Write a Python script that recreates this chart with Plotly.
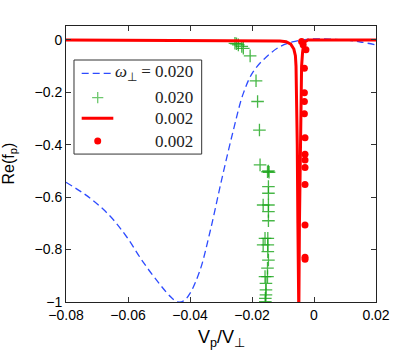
import plotly.graph_objects as go

# ---- data ----
blue_x = [-0.08, -0.0723, -0.0658, -0.0604, -0.0551, -0.0497, -0.046, -0.044, -0.042, -0.040,
          -0.0368, -0.0335, -0.0298, -0.026, -0.0228, -0.0196, -0.0153, -0.011, -0.007, -0.003,
          0.0, 0.005, 0.0095, 0.015, 0.02]
blue_y = [-0.543, -0.603, -0.672, -0.752, -0.848, -0.933, -0.983, -1.0, -0.995, -0.967,
          -0.88, -0.73, -0.534, -0.344, -0.204, -0.121, -0.064, -0.026, -0.008, 0.001,
          0.004, 0.003, 0.0, -0.008, -0.019]

green_x = [-0.0255, -0.0250, -0.0244, -0.0233, -0.0228, -0.0206, -0.0187, -0.0182, -0.0176, -0.0174,
           -0.0147, -0.0150, -0.0145, -0.0147, -0.0147, -0.0164, -0.0147, -0.0147, -0.0147, -0.0149,
           -0.0158, -0.0164, -0.0149, -0.0149, -0.0147, -0.0150, -0.0158, -0.0150, -0.0155, -0.0155,
           -0.0155, -0.0157, -0.0157]
green_y = [-0.013, -0.015, -0.019, -0.025, -0.032, -0.061, -0.156, -0.235, -0.344, -0.477,
           -0.500, -0.503, -0.505, -0.56, -0.585, -0.63, -0.63, -0.655, -0.69, -0.757,
           -0.757, -0.782, -0.782, -0.808, -0.84, -0.871, -0.903, -0.903, -0.929, -0.954,
           -0.973, -0.986, -0.999]

red_line_x = [-0.08, -0.03, -0.015, -0.011, -0.009, -0.0075, -0.0065, -0.006, -0.0058, -0.0056,
              -0.0054, -0.0052, -0.0051, -0.0049, -0.0047, -0.0044, -0.0042, -0.0040, -0.0037,
              -0.0034, -0.003, -0.0025, -0.002, 0.02]
red_line_y = [0.0, -0.001, -0.002, -0.004, -0.007, -0.016, -0.035, -0.06, -0.1, -0.2,
              -0.4, -0.7, -1.05, -1.05, -0.7, -0.4, -0.2, -0.1, -0.05,
              -0.02, -0.008, -0.002, 0.0, 0.0]

red_dot_x = [-0.0040, -0.0035, -0.0026, -0.0031, -0.0031, -0.0031, -0.0031, -0.0029, -0.0029,
             -0.0029, -0.0029, -0.0029, -0.0029, -0.0029, -0.0029]
red_dot_y = [-0.006, -0.019, -0.038, -0.108, -0.202, -0.235, -0.282, -0.373, -0.436,
             -0.458, -0.487, -0.552, -0.706, -0.829, -0.837]

legend_labels = ["<i>ω</i><sub>⊥</sub> = 0.020", "0.020", "0.002", "0.002"]

BLUE = "rgb(45,75,255)"
GREEN = "rgba(25,165,25,0.8)"
RED = "rgb(255,0,0)"

fig = go.Figure()
fig.add_trace(go.Scatter(x=blue_x, y=blue_y, mode="lines", line_shape="spline",
                         line=dict(color=BLUE, width=1.3, dash="7px,4px"), showlegend=False))
fig.add_trace(go.Scatter(x=green_x, y=green_y, mode="markers",
                         marker=dict(symbol="cross-thin", size=9, line=dict(color=GREEN, width=1.3)),
                         showlegend=False))
fig.add_trace(go.Scatter(x=red_line_x, y=red_line_y, mode="lines",
                         line=dict(color=RED, width=3), showlegend=False))
fig.add_trace(go.Scatter(x=red_dot_x, y=red_dot_y, mode="markers",
                         marker=dict(symbol="circle", size=7, color=RED), showlegend=False))

# ---- custom legend (overlay axis in 0..1 units) ----
rows = [0.8286, 0.7402, 0.6656, 0.5833]
fig.add_trace(go.Scatter(x=[0.0506, 0.1526], y=[rows[0]] * 2, xaxis="x2", yaxis="y2", mode="lines",
                         line=dict(color=BLUE, width=1.3, dash="7px,4px"), showlegend=False))
fig.add_trace(go.Scatter(x=[0.1023], y=[rows[1]], xaxis="x2", yaxis="y2", mode="markers",
                         marker=dict(symbol="cross-thin", size=8,
                                     line=dict(color="rgba(110,200,110,1)", width=1.3)),
                         showlegend=False))
fig.add_trace(go.Scatter(x=[0.0506, 0.1526], y=[rows[2]] * 2, xaxis="x2", yaxis="y2", mode="lines",
                         line=dict(color=RED, width=3), showlegend=False))
fig.add_trace(go.Scatter(x=[0.1023], y=[rows[3]], xaxis="x2", yaxis="y2", mode="markers",
                         marker=dict(symbol="circle", size=7, color=RED), showlegend=False))

annotations = []
for lbl, ry in zip(legend_labels, rows):
    annotations.append(dict(x=0.4161, y=ry, xref="paper", yref="paper", text=lbl, showarrow=False,
                            xanchor="right", yanchor="middle",
                            font=dict(family="Liberation Serif, Times New Roman, serif", size=17,
                                      color="#222")))
annotations.append(dict(x=0.5, y=0, xref="paper", yref="paper", yshift=-23,
                        text="V<sub>p</sub>/V<sub>⊥</sub>", showarrow=False,
                        xanchor="center", yanchor="top",
                        font=dict(family="Liberation Sans", size=18, color="black")))
annotations.append(dict(x=0, y=0.5, xref="paper", yref="paper", xshift=-69,
                        text="Re(f<sub>p</sub>)", showarrow=False, textangle=-90,
                        xanchor="left", yanchor="middle",
                        font=dict(family="Liberation Sans", size=16, color="black")))

axis_common = dict(showline=True, linecolor="#222", linewidth=1, mirror="ticks", ticks="inside",
                   ticklen=5, tickcolor="#333", showgrid=False, zeroline=False,
                   tickfont=dict(family="Liberation Sans", size=14, color="black"))

fig.update_layout(
    width=415, height=351,
    margin=dict(l=66, r=39, t=26, b=49),
    paper_bgcolor="white", plot_bgcolor="white",
    xaxis=dict(range=[-0.08, 0.02], tickvals=[-0.08, -0.06, -0.04, -0.02, 0, 0.02],
               ticktext=["−0.08", "−0.06", "−0.04", "−0.02", "0", "0.02"], **axis_common),
    yaxis=dict(range=[-1, 0.053], tickvals=[-1, -0.8, -0.6, -0.4, -0.2, 0],
               ticktext=["−1", "−0.8", "−0.6", "−0.4", "−0.2", "0"], **axis_common),
    xaxis2=dict(range=[0, 1], overlaying="x", visible=False, fixedrange=True),
    yaxis2=dict(range=[0, 1], overlaying="y", visible=False, fixedrange=True),
    shapes=[dict(type="rect", xref="paper", yref="paper", x0=0.0258, x1=0.4377, y0=0.536, y1=0.8768,
                 line=dict(color="#333", width=1), fillcolor="white", layer="below")],
    annotations=annotations,
    showlegend=False,
)

# remove the default 8px page margin so the figure sits at the window's top-left corner
fig.write_html("out.html", config={"displayModeBar": False},
               post_script="document.body.style.margin='0';document.body.style.overflow='hidden';")
